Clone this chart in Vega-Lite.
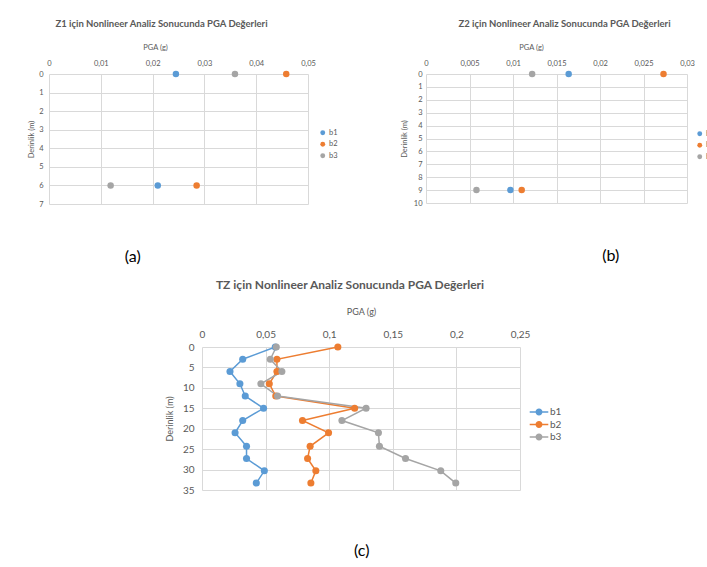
{
  "$schema": "https://vega.github.io/schema/vega-lite/v6.json",
  "padding": {"left": 27, "top": 18, "right": 0, "bottom": 0},
  "background": "white",
  "config": {
    "font": "Lato",
    "view": {"stroke": null},
    "axis": {"grid": true, "gridColor": "#D9D9D9", "gridWidth": 1, "domain": false, "ticks": false, "labelColor": "#595959", "titleColor": "#595959", "titleFontWeight": "normal", "labelFlush": false, "labelOverlap": false},
    "legend": {"labelColor": "#595959", "padding": 0},
    "title": {"color": "#595959"}
  },
  "datasets": {
    "za": [
      {"series": "b1", "pga": 0.0245, "depth": 0},
      {"series": "b1", "pga": 0.021, "depth": 6},
      {"series": "b2", "pga": 0.0458, "depth": 0},
      {"series": "b2", "pga": 0.0285, "depth": 6},
      {"series": "b3", "pga": 0.0359, "depth": 0},
      {"series": "b3", "pga": 0.0119, "depth": 6}
    ],
    "zb": [
      {"series": "b1", "pga": 0.0164, "depth": 0},
      {"series": "b1", "pga": 0.0097, "depth": 9},
      {"series": "b2", "pga": 0.0273, "depth": 0},
      {"series": "b2", "pga": 0.011, "depth": 9},
      {"series": "b3", "pga": 0.0122, "depth": 0},
      {"series": "b3", "pga": 0.0058, "depth": 9}
    ],
    "zc": [
      {"series": "b1", "pga": 0.0576, "depth": 0},
      {"series": "b1", "pga": 0.032, "depth": 3},
      {"series": "b1", "pga": 0.022, "depth": 6},
      {"series": "b1", "pga": 0.0298, "depth": 9},
      {"series": "b1", "pga": 0.034, "depth": 12},
      {"series": "b1", "pga": 0.0484, "depth": 15},
      {"series": "b1", "pga": 0.032, "depth": 18},
      {"series": "b1", "pga": 0.026, "depth": 21},
      {"series": "b1", "pga": 0.035, "depth": 24.3},
      {"series": "b1", "pga": 0.035, "depth": 27.3},
      {"series": "b1", "pga": 0.049, "depth": 30.3},
      {"series": "b1", "pga": 0.0427, "depth": 33.3},
      {"series": "b2", "pga": 0.1068, "depth": 0},
      {"series": "b2", "pga": 0.0589, "depth": 3},
      {"series": "b2", "pga": 0.0589, "depth": 6},
      {"series": "b2", "pga": 0.0529, "depth": 9},
      {"series": "b2", "pga": 0.058, "depth": 12},
      {"series": "b2", "pga": 0.12, "depth": 15},
      {"series": "b2", "pga": 0.079, "depth": 18},
      {"series": "b2", "pga": 0.0995, "depth": 21},
      {"series": "b2", "pga": 0.085, "depth": 24.3},
      {"series": "b2", "pga": 0.083, "depth": 27.3},
      {"series": "b2", "pga": 0.0895, "depth": 30.3},
      {"series": "b2", "pga": 0.0856, "depth": 33.3},
      {"series": "b3", "pga": 0.0584, "depth": 0},
      {"series": "b3", "pga": 0.0537, "depth": 3},
      {"series": "b3", "pga": 0.0628, "depth": 6},
      {"series": "b3", "pga": 0.0463, "depth": 9},
      {"series": "b3", "pga": 0.0594, "depth": 12},
      {"series": "b3", "pga": 0.129, "depth": 15},
      {"series": "b3", "pga": 0.11, "depth": 18},
      {"series": "b3", "pga": 0.1387, "depth": 21},
      {"series": "b3", "pga": 0.1395, "depth": 24.3},
      {"series": "b3", "pga": 0.16, "depth": 27.3},
      {"series": "b3", "pga": 0.1877, "depth": 30.3},
      {"series": "b3", "pga": 0.1995, "depth": 33.3}
    ]
  },
  "resolve": {"scale": {"color": "independent"}, "legend": {"color": "independent"}},
  "spacing": 14,
  "center": true,
  "vconcat": [
    {
      "spacing": 62,
      "resolve": {"scale": {"color": "independent"}, "legend": {"color": "independent"}},
      "hconcat": [
        {
          "title": {"text": "(a)", "orient": "bottom", "anchor": "middle", "frame": "bounds", "fontSize": 16, "fontWeight": "normal", "color": "#000000", "offset": 41, "dx": -50},
          "resolve": {"scale": {"color": "independent"}, "legend": {"color": "independent"}},
          "vconcat": [
            {
              "width": 259,
              "height": 130,
              "title": {"text": "Z1 için Nonlineer Analiz Sonucunda PGA Değerleri", "fontSize": 9.5, "fontWeight": "bold", "offset": 15, "frame": "group", "anchor": "middle", "dx": -17},
              "data": {"name": "za"},
              "mark": {"type": "circle", "size": 42, "opacity": 1},
              "encoding": {
                "x": {"field": "pga", "type": "quantitative", "scale": {"domain": [0, 0.05], "nice": false}, "axis": {"orient": "top", "title": "PGA (g)", "values": [0, 0.01, 0.02, 0.03, 0.04, 0.05], "format": "~g", "labelExpr": "replace(datum.label, '.', ',')", "labelFontSize": 7.5, "labelPadding": 7, "titleFontSize": 7.5, "titlePadding": 8, "titleX": 106}},
                "y": {"field": "depth", "type": "quantitative", "scale": {"domain": [0, 7], "reverse": true, "nice": false}, "axis": {"title": "Derinlik (m)", "values": [0, 1, 2, 3, 4, 5, 6, 7], "labelFontSize": 7.5, "labelPadding": 6, "titleFontSize": 7.5, "titlePadding": 3}},
                "color": {"field": "series", "type": "nominal", "scale": {"domain": ["b1", "b2", "b3"], "range": ["#5B9BD5", "#ED7D31", "#A5A5A5"]}, "legend": {"title": null, "orient": "none", "legendX": 270, "legendY": 55, "symbolSize": 24, "symbolType": "circle", "labelFontSize": 7.5, "rowPadding": 2.5, "labelOffset": 2.5}}
              }
            }
          ]
        },
        {
          "title": {"text": "(b)", "orient": "bottom", "anchor": "middle", "frame": "bounds", "fontSize": 16, "fontWeight": "normal", "color": "#000000", "offset": 41, "dx": 53},
          "resolve": {"scale": {"color": "independent"}, "legend": {"color": "independent"}},
          "vconcat": [
            {
              "width": 261,
              "height": 129,
              "title": {"text": "Z2 için Nonlineer Analiz Sonucunda PGA Değerleri", "fontSize": 9.5, "fontWeight": "bold", "offset": 15, "frame": "group", "anchor": "middle", "dx": 8},
              "data": {"name": "zb"},
              "mark": {"type": "circle", "size": 42, "opacity": 1},
              "encoding": {
                "x": {"field": "pga", "type": "quantitative", "scale": {"domain": [0, 0.03], "nice": false}, "axis": {"orient": "top", "title": "PGA (g)", "values": [0, 0.005, 0.01, 0.015, 0.02, 0.025, 0.03], "format": "~g", "labelExpr": "replace(datum.label, '.', ',')", "labelFontSize": 7.5, "labelPadding": 7, "titleFontSize": 7.5, "titlePadding": 8, "titleX": 105}},
                "y": {"field": "depth", "type": "quantitative", "scale": {"domain": [0, 10], "reverse": true, "nice": false}, "axis": {"title": "Derinlik (m)", "values": [0, 1, 2, 3, 4, 5, 6, 7, 8, 9, 10], "labelFontSize": 7.5, "labelPadding": 4, "titleFontSize": 7.5, "titlePadding": 5}},
                "color": {"field": "series", "type": "nominal", "scale": {"domain": ["b1", "b2", "b3"], "range": ["#5B9BD5", "#ED7D31", "#A5A5A5"]}, "legend": {"title": null, "orient": "none", "legendX": 270, "legendY": 56, "symbolSize": 24, "symbolType": "circle", "labelFontSize": 7.5, "rowPadding": 2.5, "labelOffset": 2.5}}
              }
            }
          ]
        }
      ]
    },
    {
      "title": {"text": "(c)", "orient": "bottom", "anchor": "middle", "frame": "bounds", "fontSize": 16, "fontWeight": "normal", "color": "#000000", "offset": 48, "dx": -2},
      "resolve": {"scale": {"color": "independent"}, "legend": {"color": "independent"}},
      "vconcat": [
        {
          "width": 318,
          "height": 143,
          "title": {"text": "TZ için Nonlineer Analiz Sonucunda PGA Değerleri", "fontSize": 12, "fontWeight": "bold", "offset": 15, "frame": "group", "anchor": "middle", "dx": -11},
          "data": {"name": "zc"},
          "encoding": {
            "x": {"field": "pga", "type": "quantitative", "scale": {"domain": [0, 0.25], "nice": false}, "axis": {"orient": "top", "title": "PGA (g)", "values": [0, 0.05, 0.1, 0.15, 0.2, 0.25], "format": "~g", "labelExpr": "replace(datum.label, '.', ',')", "labelFontSize": 10, "labelPadding": 8, "titleFontSize": 9, "titlePadding": 13}},
            "y": {"field": "depth", "type": "quantitative", "scale": {"domain": [0, 35], "reverse": true, "nice": false}, "axis": {"title": "Derinlik (m)", "values": [0, 5, 10, 15, 20, 25, 30, 35], "labelFontSize": 10, "labelPadding": 8, "titleFontSize": 9, "titlePadding": 8}}
          },
          "layer": [
            {
              "mark": {"type": "line", "strokeWidth": 1.5},
              "encoding": {
                "order": {"field": "depth", "type": "quantitative"},
                "stroke": {"field": "series", "type": "nominal", "scale": {"domain": ["b1", "b2", "b3"], "range": ["#5B9BD5", "#ED7D31", "#A5A5A5"]}, "legend": null}
              }
            },
            {
              "mark": {"type": "circle", "size": 50, "opacity": 1},
              "encoding": {
                "color": {"field": "series", "type": "nominal", "scale": {"domain": ["b1", "b2", "b3"], "range": ["#5B9BD5", "#ED7D31", "#A5A5A5"]}, "legend": {"title": null, "orient": "none", "legendX": 331, "legendY": 59, "symbolSize": 144, "symbolStrokeWidth": 0, "symbolType": "M-1.55,-0.125L1.55,-0.125L1.55,0.125L-1.55,0.125Z M0.58,0 A0.58,0.58 0 1,1 -0.58,0 A0.58,0.58 0 1,1 0.58,0 Z", "labelFontSize": 10, "rowPadding": 1.5, "labelOffset": 5}}
              }
            }
          ]
        }
      ]
    }
  ]
}
